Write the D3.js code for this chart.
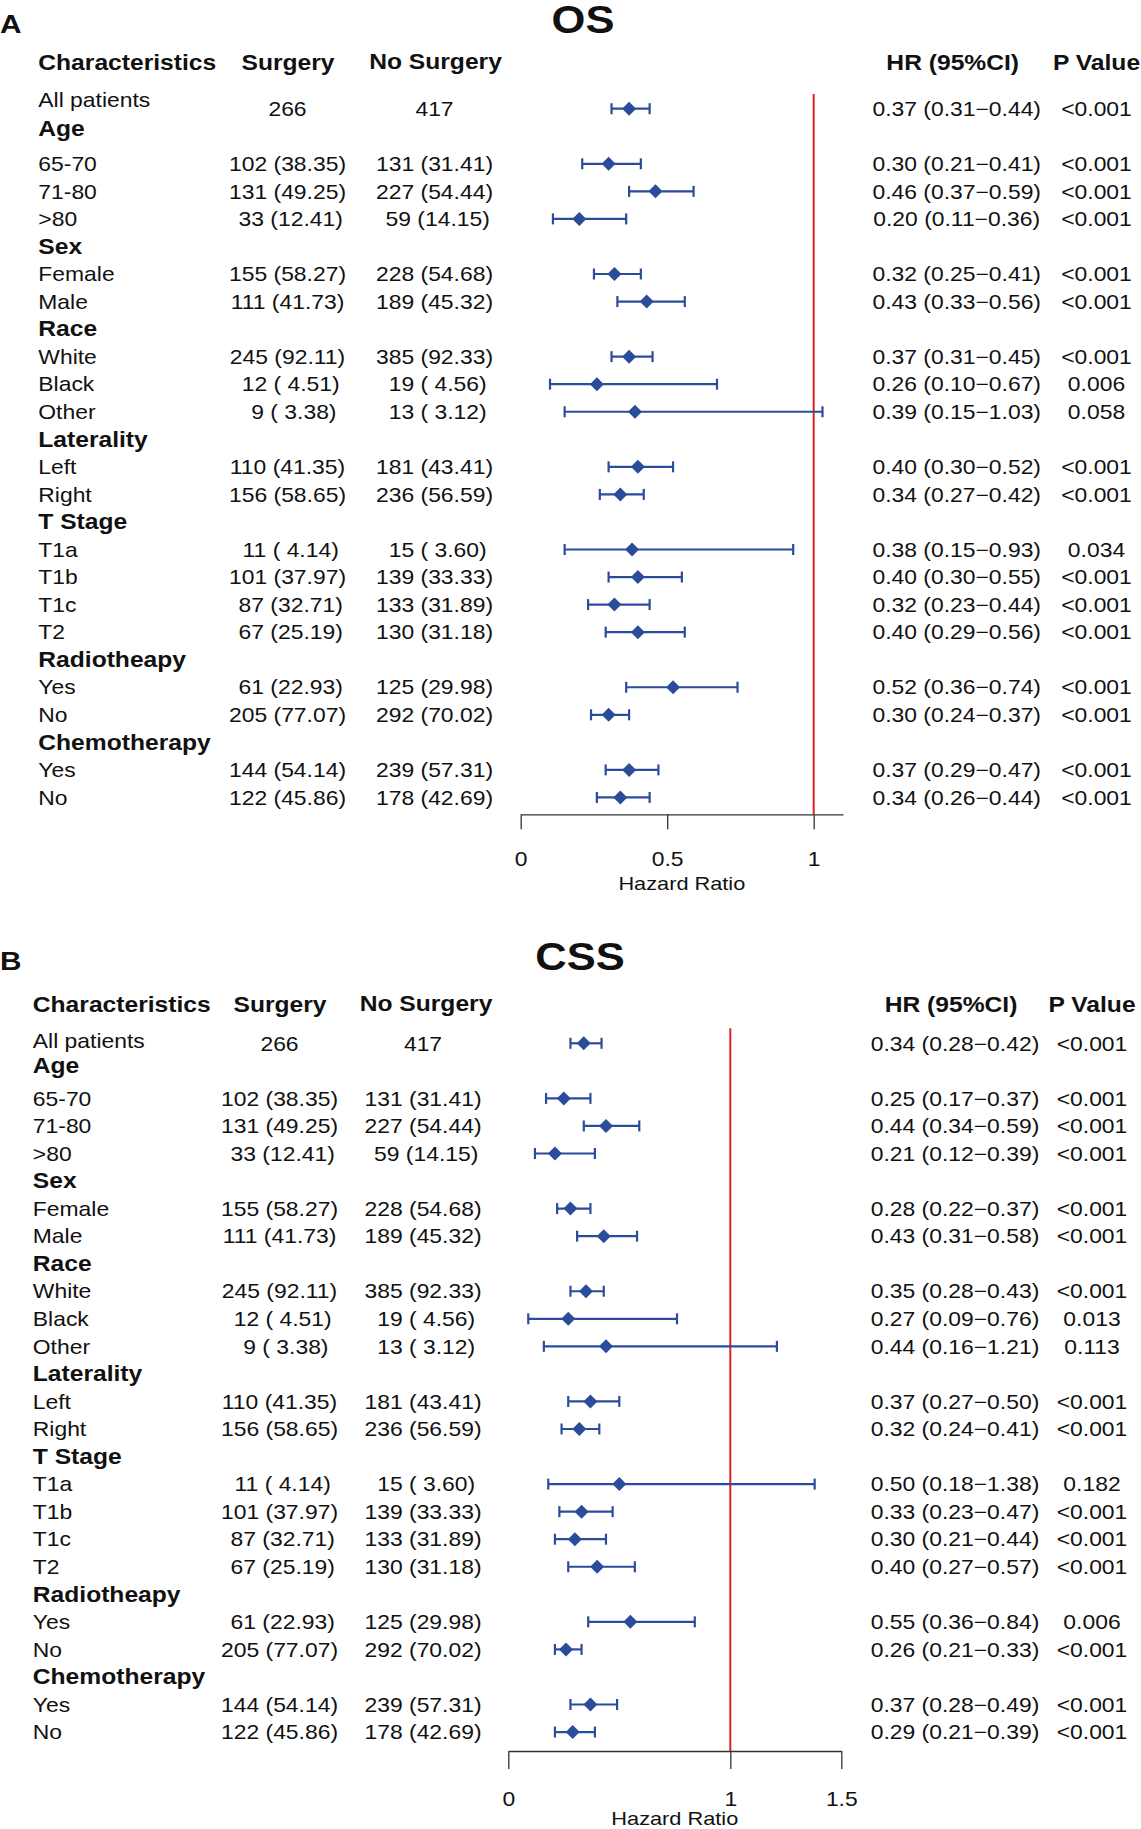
<!DOCTYPE html>
<html>
<head>
<meta charset="utf-8">
<script src="https://cdn.jsdelivr.net/npm/d3@7"></script>
<style>
  body { margin: 0; background: #fff; }
  text { font-family: "Liberation Sans", Arial, Helvetica, sans-serif; fill: #111; white-space: pre; }
</style>
</head>
<body>
<div id="chart"></div>
<script>
// rows shared by both panels
var rowLabels = ["All patients","Age","65-70","71-80",">80","Sex","Female","Male","Race","White","Black","Other",
  "Laterality","Left","Right","T Stage","T1a","T1b","T1c","T2","Radiotheapy","Yes","No","Chemotherapy","Yes","No"];
var groupHeaders = ["Age","Sex","Race","Laterality","T Stage","Radiotheapy","Chemotherapy"];
var columnHeaders = ["Characteristics","Surgery","No Surgery","HR (95%CI)","P Value"];

var surgeryN   = [266,null,102,131,33,null,155,111,null,245,12,9,null,110,156,null,11,101,87,67,null,61,205,null,144,122];
var surgeryPct = [null,null,38.35,49.25,12.41,null,58.27,41.73,null,92.11,4.51,3.38,null,41.35,58.65,null,4.14,37.97,32.71,25.19,null,22.93,77.07,null,54.14,45.86];
var noSurgN    = [417,null,131,227,59,null,228,189,null,385,19,13,null,181,236,null,15,139,133,130,null,125,292,null,239,178];
var noSurgPct  = [null,null,31.41,54.44,14.15,null,54.68,45.32,null,92.33,4.56,3.12,null,43.41,56.59,null,3.60,33.33,31.89,31.18,null,29.98,70.02,null,57.31,42.69];

// OS
var hrOS   = [0.37,null,0.30,0.46,0.20,null,0.32,0.43,null,0.37,0.26,0.39,null,0.40,0.34,null,0.38,0.40,0.32,0.40,null,0.52,0.30,null,0.37,0.34];
var lowOS  = [0.31,null,0.21,0.37,0.11,null,0.25,0.33,null,0.31,0.10,0.15,null,0.30,0.27,null,0.15,0.30,0.23,0.29,null,0.36,0.24,null,0.29,0.26];
var highOS = [0.44,null,0.41,0.59,0.36,null,0.41,0.56,null,0.45,0.67,1.03,null,0.52,0.42,null,0.93,0.55,0.44,0.56,null,0.74,0.37,null,0.47,0.44];
var pOS    = ["<0.001","","<0.001","<0.001","<0.001","","<0.001","<0.001","","<0.001","0.006","0.058","","<0.001","<0.001","",
  "0.034","<0.001","<0.001","<0.001","","<0.001","<0.001","","<0.001","<0.001"];
var ticksOS = [0, 0.5, 1];

// CSS
var hrCSS   = [0.34,null,0.25,0.44,0.21,null,0.28,0.43,null,0.35,0.27,0.44,null,0.37,0.32,null,0.50,0.33,0.30,0.40,null,0.55,0.26,null,0.37,0.29];
var lowCSS  = [0.28,null,0.17,0.34,0.12,null,0.22,0.31,null,0.28,0.09,0.16,null,0.27,0.24,null,0.18,0.23,0.21,0.27,null,0.36,0.21,null,0.28,0.21];
var highCSS = [0.42,null,0.37,0.59,0.39,null,0.37,0.58,null,0.43,0.76,1.21,null,0.50,0.41,null,1.38,0.47,0.44,0.57,null,0.84,0.33,null,0.49,0.39];
var pCSS    = ["<0.001","","<0.001","<0.001","<0.001","","<0.001","<0.001","","<0.001","0.013","0.113","","<0.001","<0.001","",
  "0.182","<0.001","<0.001","<0.001","","0.006","<0.001","","<0.001","<0.001"];
var ticksCSS = [0, 1, 1.5];

var W = 1141, H = 1829;
var SX = 1.145;          // source figure is stretched horizontally
var blue = "#2b4c9b", red = "#e0202a";
var f2 = d3.format(".2f");

function pad(s, n) { s = String(s); while (s.length < n) s = " " + s; return s; }
function countText(n, p) {
  if (n == null) return "";
  if (p == null) return String(n);
  return pad(n, 3) + " (" + pad(f2(p), 5) + ")";
}

var svg = d3.select("#chart").append("svg").attr("width", W).attr("height", H);
svg.append("rect").attr("width", W).attr("height", H).attr("fill", "#fff");

function txt(g, x, y, s, anchor, size, bold) {
  return g.append("text")
    .attr("transform", "translate(" + x + "," + y + ") scale(" + SX + ",1)")
    .attr("text-anchor", anchor || "start")
    .attr("xml:space", "preserve")
    .style("font-size", (size || 20) + "px")
    .style("font-weight", bold ? "bold" : "normal")
    .text(s);
}

var panels = [
  { letter: "A", title: "OS", hr: hrOS, low: lowOS, high: highOS, p: pOS, ticks: ticksOS, dmax: 1.1,
    L: { titleX: 583, titleY: 33, headY: 69.5, row0: 108.7, step: 27.55, labX: 38.3, survX: 287.5, noX: 434.5,
         survHX: 288, noHX: 435.5, hrX: 956.7, pX: 1096.5, x0: 520.7, x1: 813.7, axisY: 814.3, tick: 15,
         refTop: 94, hrY: 76, shift: [-8.6, -7.5] } },
  { letter: "B", title: "CSS", hr: hrCSS, low: lowCSS, high: highCSS, p: pCSS, ticks: ticksCSS, dmax: 1.5,
    L: { titleX: 580, titleY: 970, headY: 1011.7, row0: 1043.3, step: 27.55, labX: 32.8, survX: 279.5, noX: 423,
         survHX: 280, noHX: 426, hrX: 955, pX: 1092, x0: 508.3, x1: 730.3, axisY: 1751, tick: 18,
         refTop: 1028.3, hrY: 74, shift: [-2.2, -4.7] } }
];

panels.forEach(function(P) {
  var L = P.L;
  var g = svg.append("g");
  var x = d3.scaleLinear().domain([0, 1]).range([L.x0, L.x1]);
  var y = function(i) { return L.row0 + i * L.step; };

  txt(g, 0, L.titleY, P.letter, "start", 26, true);
  txt(g, L.titleX, L.titleY, P.title, "middle", 38, true);

  // column headers
  txt(g, L.labX, L.headY, columnHeaders[0], "start", 21.5, true);
  txt(g, L.survHX, L.headY, columnHeaders[1], "middle", 21.5, true);
  txt(g, L.noHX, L.headY - 1, columnHeaders[2], "middle", 21.5, true);
  txt(g, L.hrX - 4, L.headY, columnHeaders[3], "middle", 21.5, true);
  txt(g, L.pX, L.headY, columnHeaders[4], "middle", 21.5, true);

  // text columns
  rowLabels.forEach(function(lab, i) {
    var isHead = groupHeaders.indexOf(lab) >= 0;
    var by = y(i) + 7.2;
    var shift = i < L.shift.length ? L.shift[i] : 0;
    txt(g, L.labX, by + shift, lab, "start", isHead ? 21.5 : 20, isHead);
    txt(g, L.survX, by, countText(surgeryN[i], surgeryPct[i]), "middle", 20);
    txt(g, L.noX, by, countText(noSurgN[i], noSurgPct[i]), "middle", 20);
    if (P.hr[i] != null) {
      txt(g, L.hrX, by, f2(P.hr[i]) + " (" + f2(P.low[i]) + "\u2212" + f2(P.high[i]) + ")", "middle", 20);
      txt(g, L.pX, by, P.p[i], "middle", 20);
    }
  });

  // reference line at HR = 1
  g.append("line")
    .attr("x1", x(1)).attr("x2", x(1))
    .attr("y1", L.refTop).attr("y2", L.axisY)
    .attr("stroke", red).attr("stroke-width", 2);

  // axis
  var axisX = d3.scaleLinear().domain([0, P.dmax]).range([x(0), x(P.dmax)]);
  var ax = g.append("g").attr("transform", "translate(0," + L.axisY + ")")
    .call(d3.axisBottom(axisX).tickValues(P.ticks).tickFormat(d3.format("")).tickSize(L.tick).tickSizeOuter(0));
  ax.select(".domain").attr("stroke", "#333").attr("stroke-width", 1.3);
  ax.selectAll(".tick line").attr("stroke", "#333").attr("stroke-width", 1.3);
  ax.selectAll(".tick text")
    .attr("y", 0).attr("dy", null)
    .attr("transform", "translate(0," + (L.tick + 37) + ") scale(" + SX + ",1)")
    .attr("fill", "#111")
    .style("font-size", "20px")
    .style("font-family", null);
  txt(g, (x(0) + x(P.dmax)) / 2, L.axisY + L.hrY, "Hazard Ratio", "middle", 19);

  // confidence intervals
  var idx = d3.range(rowLabels.length).filter(function(i) { return P.hr[i] != null; });
  var ci = g.selectAll(".ci").data(idx).enter().append("g");
  ci.append("line")
    .attr("x1", function(i) { return x(P.low[i]); })
    .attr("x2", function(i) { return x(P.high[i]); })
    .attr("y1", y).attr("y2", y)
    .attr("stroke", blue).attr("stroke-width", 2.2);
  ["low", "high"].forEach(function(k) {
    ci.append("line")
      .attr("x1", function(i) { return x(P[k][i]); })
      .attr("x2", function(i) { return x(P[k][i]); })
      .attr("y1", function(i) { return y(i) - 5.5; })
      .attr("y2", function(i) { return y(i) + 5.5; })
      .attr("stroke", blue).attr("stroke-width", 2.2);
  });
  ci.append("path")
    .attr("d", d3.symbol().type(d3.symbolSquare).size(98))
    .attr("transform", function(i) { return "translate(" + x(P.hr[i]) + "," + y(i) + ") rotate(45)"; })
    .attr("fill", blue);
});
</script>
</body>
</html>
